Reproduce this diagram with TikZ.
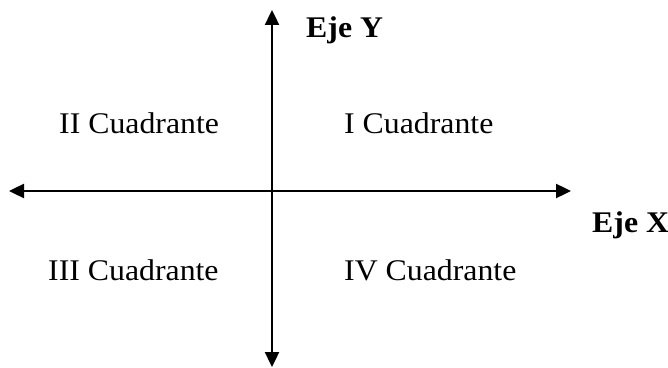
\documentclass[tikz,border=0pt]{standalone}
\usepackage{fontspec}
\setmainfont{Liberation Serif}[FakeStretch=1.06]
\usetikzlibrary{arrows.meta}
\tikzset{every picture/.style={line width=2.4pt}}
\tikzset{
  axisline/.style={line width=2.4pt,{Triangle[length=15pt,width=14pt]}-{Triangle[length=15pt,width=14pt]}},
  quadlabel/.style={anchor=base west,inner sep=0pt,font=\fontsize{30}{36}\selectfont},
  axislabel/.style={anchor=base west,inner sep=0pt,font=\fontsize{30}{36}\selectfont\bfseries}
}

\begin{document}
\begin{tikzpicture}[x=1pt,y=1pt]
    \useasboundingbox (0,0) rectangle (668,367);

    % Axis ends
    \coordinate (xleft) at (9,176);
    \coordinate (xright) at (571,176);
    \coordinate (ytop) at (272,357);
    \coordinate (ybottom) at (272,0);

    % Axes
    \draw[axisline] (xleft) -- (xright);
    \draw[axisline] (ybottom) -- (ytop);

    % Axis names
    \node[axislabel] (ejey) at (305,329) {Eje Y};
    \node[axislabel] (ejex) at (591,135) {Eje X};

    % Quadrants
    \node[quadlabel] (cuadII) at (58,233) {II Cuadrante};
    \node[quadlabel] (cuadI) at (343,233) {I Cuadrante};
    \node[quadlabel] (cuadIII) at (47,87) {III Cuadrante};
    \node[quadlabel] (cuadIV) at (343,87) {IV Cuadrante};
\end{tikzpicture}
\end{document}
